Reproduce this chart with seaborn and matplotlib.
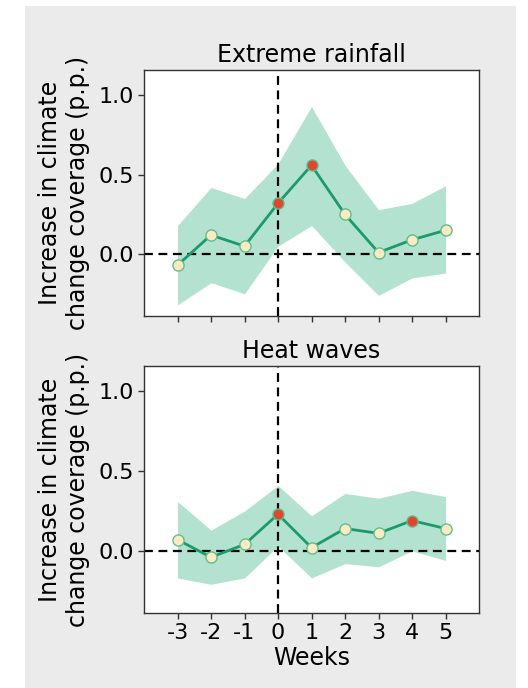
import numpy as np
import pandas as pd
import matplotlib
matplotlib.use("Agg")
import matplotlib.pyplot as plt
import seaborn as sns
from matplotlib.patches import Rectangle

weeks = [-3, -2, -1, 0, 1, 2, 3, 4, 5]

rain_mean = [-0.07, 0.12, 0.05, 0.32, 0.56, 0.25, 0.01, 0.09, 0.15]
rain_low = [-0.32, -0.18, -0.25, 0.05, 0.18, -0.05, -0.26, -0.15, -0.12]
rain_high = [0.18, 0.42, 0.35, 0.57, 0.93, 0.56, 0.28, 0.32, 0.43]
rain_sig = [False, False, False, True, True, False, False, False, False]

heat_mean = [0.07, -0.04, 0.04, 0.23, 0.02, 0.14, 0.11, 0.19, 0.14]
heat_low = [-0.17, -0.21, -0.17, 0.03, -0.17, -0.08, -0.10, 0.00, -0.06]
heat_high = [0.31, 0.13, 0.25, 0.41, 0.22, 0.36, 0.33, 0.38, 0.34]
heat_sig = [False, False, False, True, False, False, False, True, False]

titles = ["Extreme rainfall", "Heat waves"]
ylabel = "Increase in climate\nchange coverage (p.p.)"
xlabel = "Weeks"
yticks = [0.0, 0.5, 1.0]

sns.set_style("ticks")
plt.rcParams['font.family'] = ['DejaVu Sans']
plt.rcParams['text.color'] = 'black'
plt.rcParams['axes.labelcolor'] = 'black'
plt.rcParams['xtick.color'] = 'black'
plt.rcParams['ytick.color'] = 'black'

line_color = "#1b9a6c"
band_color = "#b4e2d0"
face_color = "#fde9c4"
edge_color = "#5fbf8c"
sig_color = "#e2452c"

fig = plt.figure(figsize=(5.28, 6.88), dpi=100, facecolor="white")
fig.patches.append(Rectangle((25/528, 0), (516-25)/528, 1 - 6/688,
                             transform=fig.transFigure, facecolor="#ebebeb",
                             edgecolor="none", zorder=-10))

ax1 = fig.add_axes([144/528, 1 - 316/688, (479-144)/528, (316-70)/688])
ax2 = fig.add_axes([144/528, 1 - 613/688, (479-144)/528, (613-366)/688], sharex=ax1, sharey=ax1)

series = [(rain_mean, rain_low, rain_high, rain_sig), (heat_mean, heat_low, heat_high, heat_sig)]

for ax, title, (m, lo, hi, sig) in zip([ax1, ax2], titles, series):
    df = pd.DataFrame({"week": weeks, "mean": m, "low": lo, "high": hi, "sig": sig})
    ax.fill_between(df["week"], df["low"], df["high"], color=band_color, lw=0, zorder=1)
    ax.axhline(0, color="black", ls="--", lw=1.6, zorder=2, dashes=(4, 2.5))
    ax.axvline(0, color="black", ls="--", lw=1.6, zorder=2, dashes=(4, 2.5))
    sns.lineplot(data=df, x="week", y="mean", ax=ax, color=line_color, lw=2, zorder=3)
    ns = df[~df["sig"]]
    ss = df[df["sig"]]
    ax.plot(ns["week"], ns["mean"], "o", ms=8, mfc=face_color, mec=edge_color, mew=1, zorder=4)
    ax.plot(ss["week"], ss["mean"], "o", ms=8, mfc=sig_color, mec=edge_color, mew=1, zorder=4)
    ax.set_title(title, fontsize=17, pad=6)
    ax.set_ylabel(ylabel, fontsize=17, labelpad=6)
    ax.set_xlabel("")
    ax.set_facecolor("white")
    for s in ax.spines.values():
        s.set_visible(True)
        s.set_color("0.2")
        s.set_linewidth(1)
    ax.tick_params(axis="both", labelsize=16, length=4, width=1, color="0.2", labelcolor="black")

ax1.set_xlim(-4, 6)
ax1.set_ylim(-0.39, 1.16)
ax1.set_xticks(weeks)
ax1.set_xticklabels([str(w) for w in weeks])
ax1.set_yticks(yticks)
ax1.set_yticklabels(["0.0", "0.5", "1.0"])
plt.setp(ax1.get_xticklabels(), visible=False)
ax2.set_xlabel(xlabel, fontsize=17, labelpad=2)

fig.savefig("out.png", dpi=100, facecolor="white")
